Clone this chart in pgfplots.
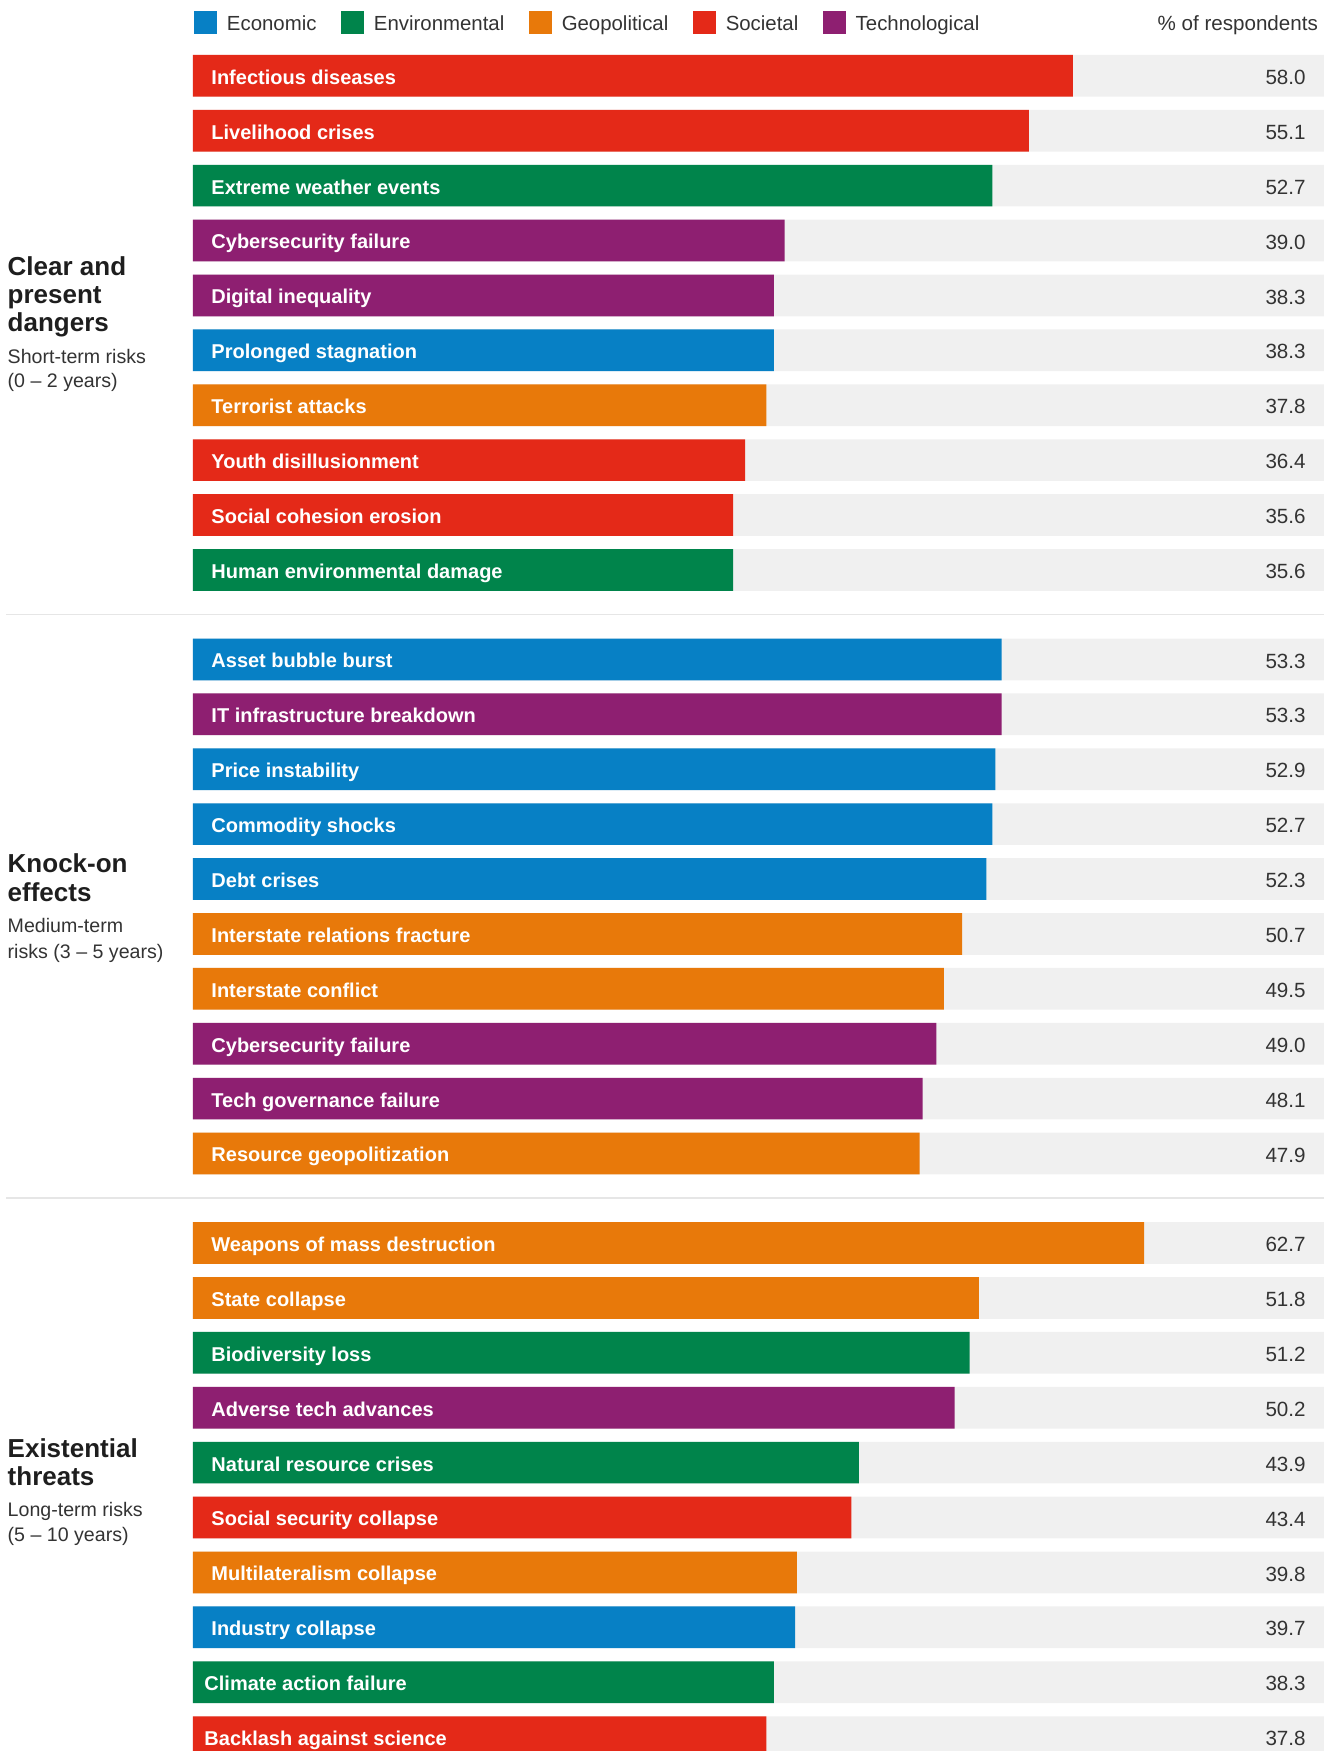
\documentclass[border=0pt]{standalone}
\usepackage{pgfplots}
\pgfplotsset{compat=1.18}
\usepackage{pgfplotstable}
\usepackage{fontspec}
\setmainfont{Liberation Sans}

\definecolor{ecoblue}{RGB}{7,128,197}
\definecolor{envgreen}{RGB}{0,132,75}
\definecolor{geoorange}{RGB}{232,121,10}
\definecolor{socred}{RGB}{228,41,24}
\definecolor{techpurple}{RGB}{142,31,113}
\definecolor{bggray}{RGB}{240,240,240}
\definecolor{sepgray}{RGB}{230,230,230}
\definecolor{headgray}{RGB}{30,30,30}
\definecolor{txtgray}{RGB}{51,51,51}

% y = row centre (pixels from top), v = % of respondents
% cat: 0 Economic, 1 Environmental, 2 Geopolitical, 3 Societal, 4 Technological
\pgfplotstableread[col sep=comma]{
y,v,cat,lx,name
75.8,58.0,3,1.19,Infectious diseases
130.7,55.1,3,1.19,Livelihood crises
185.6,52.7,1,1.19,Extreme weather events
240.5,39.0,4,1.19,Cybersecurity failure
295.4,38.3,4,1.19,Digital inequality
350.3,38.3,0,1.19,Prolonged stagnation
405.2,37.8,2,1.19,Terrorist attacks
460.1,36.4,3,1.19,Youth disillusionment
515.0,35.6,3,1.19,Social cohesion erosion
569.9,35.6,1,1.19,Human environmental damage
659.4,53.3,0,1.19,Asset bubble burst
714.3,53.3,4,1.19,IT infrastructure breakdown
769.2,52.9,0,1.19,Price instability
824.1,52.7,0,1.19,Commodity shocks
879.0,52.3,0,1.19,Debt crises
933.9,50.7,2,1.19,Interstate relations fracture
988.8,49.5,2,1.19,Interstate conflict
1043.7,49.0,4,1.19,Cybersecurity failure
1098.6,48.1,4,1.19,Tech governance failure
1153.5,47.9,2,1.19,Resource geopolitization
1243.0,62.7,2,1.19,Weapons of mass destruction
1297.9,51.8,2,1.19,State collapse
1352.8,51.2,1,1.19,Biodiversity loss
1407.7,50.2,4,1.19,Adverse tech advances
1462.6,43.9,1,1.19,Natural resource crises
1517.5,43.4,3,1.19,Social security collapse
1572.4,39.8,2,1.19,Multilateralism collapse
1627.3,39.7,0,1.19,Industry collapse
1682.2,38.3,1,0.73,Climate action failure
1737.1,37.8,3,0.73,Backlash against science
}\risks

\pgfplotsset{
  only cat/.style={restrict expr to domain={\thisrow{cat}}{#1:#1}},
  catbar/.style 2 args={xbar, fill=#2, draw=none, only cat=#1,
    legend image code/.code={\fill[#2] (0pt,-4.3pt) rectangle (11.5pt,7.2pt);}},
}

\begin{document}
\begin{tikzpicture}
\begin{axis}[
  scale only axis, width=666.5pt, height=875.5pt,
  xmin=-12.722, xmax=75.151, ymin=0, ymax=1751, y dir=reverse,
  hide axis,
  bar shift=0pt, bar width=41.7,
  legend columns=-1,
  legend style={at={(axis cs:0.066,10.5)}, anchor=north west, draw=none, fill=none,
    inner sep=0pt, outer sep=0pt, nodes={inner sep=0pt},
    font=\fontsize{10.2}{12}\selectfont, text=txtgray,
    /tikz/every odd column/.append style={column sep=5pt},
    /tikz/every even column/.append style={column sep=12.2pt}},
]
\coordinate (bbsw) at (rel axis cs:0,0);
\coordinate (bbne) at (rel axis cs:1,1);

% grey track behind each bar
\addplot[forget plot, xbar, fill=bggray, draw=none] table[x expr=74.55, y=y]{\risks};

\addplot[catbar={0}{ecoblue}] table[x=v, y=y]{\risks};
\addlegendentry{Economic}
\addplot[catbar={1}{envgreen}] table[x=v, y=y]{\risks};
\addlegendentry{Environmental}
\addplot[catbar={2}{geoorange}] table[x=v, y=y]{\risks};
\addlegendentry{Geopolitical}
\addplot[catbar={3}{socred}] table[x=v, y=y]{\risks};
\addlegendentry{Societal}
\addplot[catbar={4}{techpurple}] table[x=v, y=y]{\risks};
\addlegendentry{Technological}

% risk names inside bars
\addplot[forget plot, draw=none, mark=none, nodes near coords, point meta=explicit symbolic,
  nodes near coords style={anchor=base west, inner sep=0pt, yshift=-4.2pt, text=white,
    font=\bfseries\fontsize{10}{12}\selectfont}]
  table[x=lx, y=y, meta=name]{\risks};

% values at right
\addplot[forget plot, draw=none, mark=none, nodes near coords, point meta=explicit symbolic,
  nodes near coords style={anchor=base east, inner sep=0pt, yshift=-4.3pt, text=txtgray,
    font=\fontsize{10.3}{12}\selectfont}]
  table[x expr=73.37, y=y, meta=v]{\risks};

% separators between groups
\addplot[forget plot, color=sepgray, line width=0.8pt] coordinates {(-12.33,614.3) (74.55,614.3)};
\addplot[forget plot, color=sepgray, line width=0.8pt] coordinates {(-12.33,1197.9) (74.55,1197.9)};

\node[anchor=base east, font=\fontsize{10.3}{12}\selectfont, text=txtgray] at (axis cs:74.62,30) {\% of respondents};

% group titles
\begin{scope}[every node/.style={anchor=base west, inner sep=0pt}]
\node[font=\bfseries\fontsize{13}{15}\selectfont, text=headgray] at (axis cs:-12.24,275) {Clear and};
\node[font=\bfseries\fontsize{13}{15}\selectfont, text=headgray] at (axis cs:-12.24,303) {present};
\node[font=\bfseries\fontsize{13}{15}\selectfont, text=headgray] at (axis cs:-12.24,331) {dangers};
\node[font=\fontsize{9.8}{12}\selectfont, text=txtgray] at (axis cs:-12.24,363) {Short-term risks};
\node[font=\fontsize{9.8}{12}\selectfont, text=txtgray] at (axis cs:-12.24,387) {(0 – 2 years)};
\node[font=\bfseries\fontsize{13}{15}\selectfont, text=headgray] at (axis cs:-12.24,872.7) {Knock-on};
\node[font=\bfseries\fontsize{13}{15}\selectfont, text=headgray] at (axis cs:-12.24,901) {effects};
\node[font=\fontsize{9.8}{12}\selectfont, text=txtgray] at (axis cs:-12.24,932.3) {Medium-term};
\node[font=\fontsize{9.8}{12}\selectfont, text=txtgray] at (axis cs:-12.24,958.3) {risks (3 – 5 years)};
\node[font=\bfseries\fontsize{13}{15}\selectfont, text=headgray] at (axis cs:-12.24,1457) {Existential};
\node[font=\bfseries\fontsize{13}{15}\selectfont, text=headgray] at (axis cs:-12.24,1485) {threats};
\node[font=\fontsize{9.8}{12}\selectfont, text=txtgray] at (axis cs:-12.24,1516) {Long-term risks};
\node[font=\fontsize{9.8}{12}\selectfont, text=txtgray] at (axis cs:-12.24,1541) {(5 – 10 years)};
\end{scope}
\end{axis}
\pgfresetboundingbox
\path (bbsw) rectangle (bbne);
\end{tikzpicture}
\end{document}
